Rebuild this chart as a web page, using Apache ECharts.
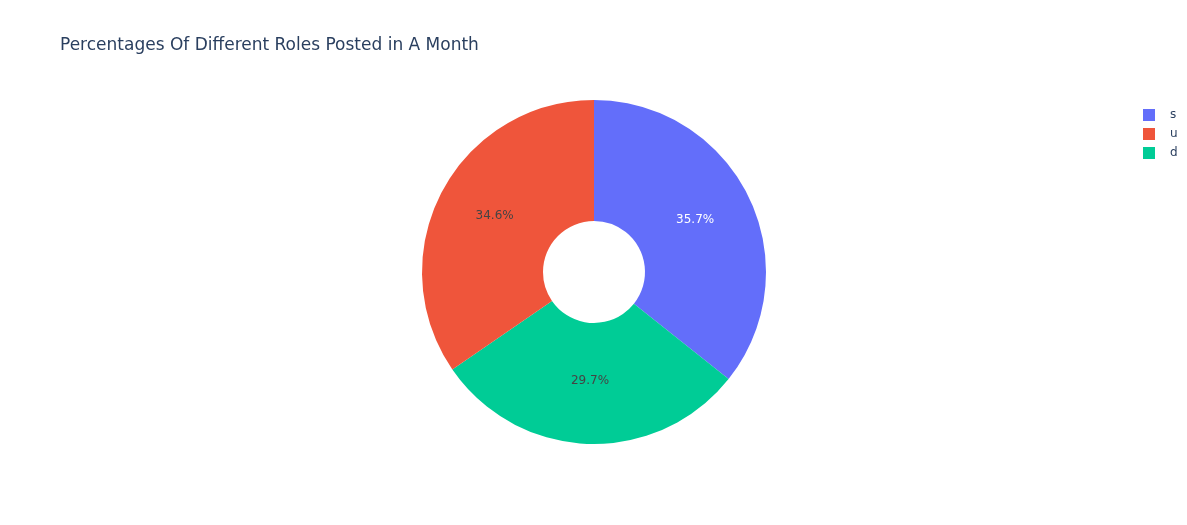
<!DOCTYPE html>
<html>
<head>
<meta charset="utf-8">
<script src="https://cdn.jsdelivr.net/npm/echarts@6/dist/echarts.min.js"></script>
<style>
html,body{margin:0;padding:0;background:#fff;}
#chart{width:1187px;height:525px;}
</style>
</head>
<body>
<div id="chart"></div>
<script>
const titleText = "Percentages Of Different Roles Posted in A Month";
const categories = ["senior", "unspecified", "director"];
const values = [357, 346, 297];

const colors = ["#636efa", "#ef553b", "#00cc96"];
const labelColors = ["#ffffff", "#444444", "#444444"];
const labelOffsets = [[-2, -2], [2, -3], [0, -6]];
// drawing order clockwise from top
const drawOrder = [0, 2, 1];

const chart = echarts.init(document.getElementById('chart'), null, {renderer: 'canvas'});
const font = "DejaVu Sans";
const data = drawOrder.map(i => ({
  name: categories[i],
  value: values[i],
  itemStyle: {color: colors[i]},
  label: {color: labelColors[i], offset: labelOffsets[i]}
}));
chart.setOption({
  animation: false,
  backgroundColor: '#ffffff',
  title: {
    text: titleText,
    left: 55,
    top: 32,
    textStyle: {fontFamily: font, fontSize: 17, fontWeight: 'normal', color: '#2a3f5f'}
  },
  legend: {
    orient: 'vertical',
    left: 1138,
    top: 104,
    data: categories,
    itemWidth: 12,
    itemHeight: 12,
    itemGap: 7,
    icon: 'rect',
    // the legend box is clipped at the page edge: only the first letter shows
    formatter: name => name.charAt(0),
    textStyle: {fontFamily: font, fontSize: 12, color: '#2a3f5f', padding: [0,0,0,10]}
  },
  series: [{
    type: 'pie',
    center: [594, 272],
    radius: [51, 172],
    startAngle: 90,
    clockwise: true,
    avoidLabelOverlap: false,
    data: data,
    label: {
      position: 'inside',
      formatter: p => p.percent.toFixed(1) + '%',
      fontFamily: font,
      fontSize: 12
    },
    labelLine: {show: false},
    itemStyle: {borderColor: '#ffffff', borderWidth: 0}
  }]
});
</script>
</body>
</html>
